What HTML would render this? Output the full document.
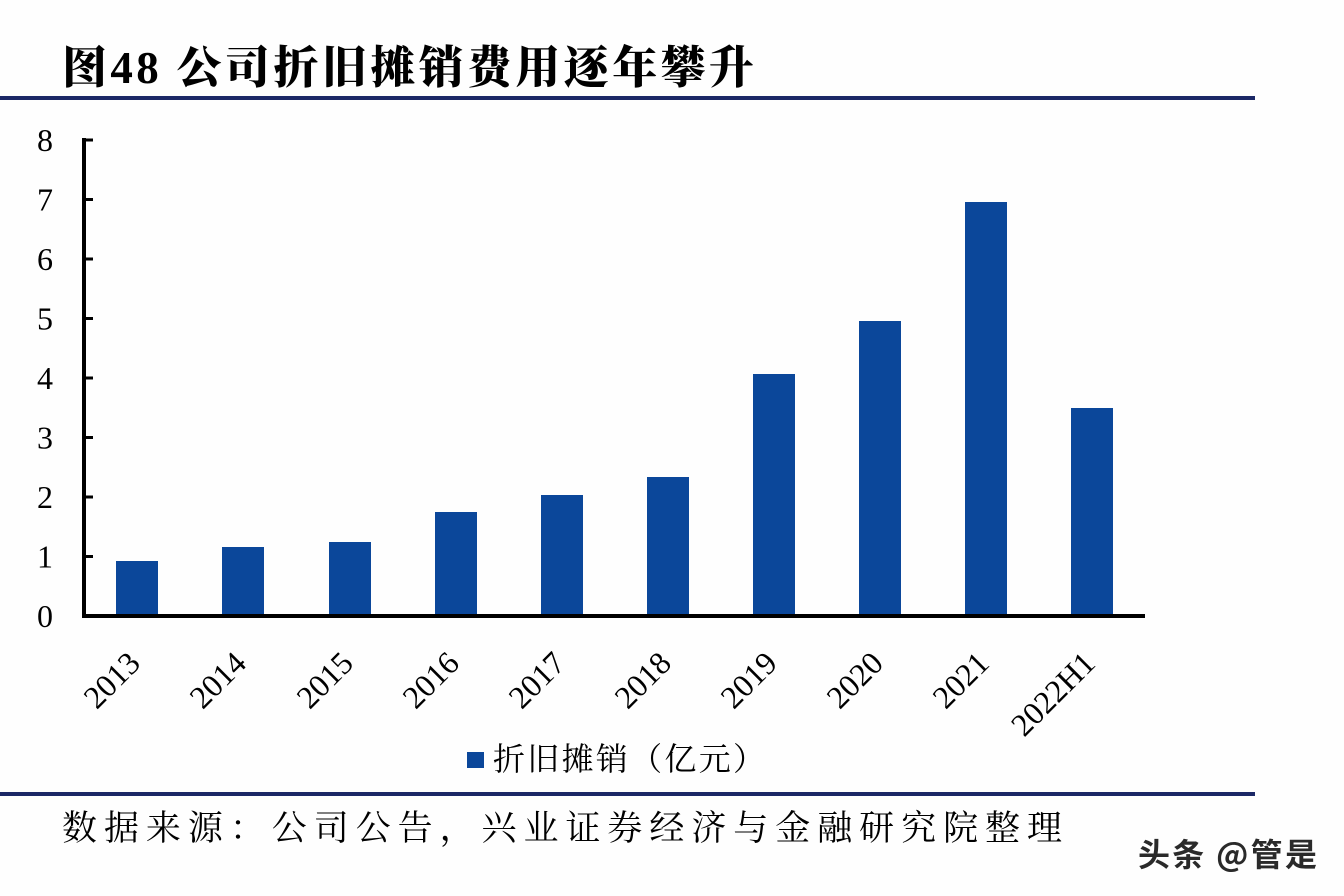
<!DOCTYPE html>
<html><head><meta charset="utf-8"><style>
html,body{margin:0;padding:0;background:#fff;}
svg{display:block;}
</style></head><body>
<svg width="1344" height="896" viewBox="0 0 1344 896" xmlns="http://www.w3.org/2000/svg">
<rect x="0" y="0" width="1344" height="896" fill="#fefefe"/>
<!-- Title -->
<text x="62" y="83" font-family="'Noto Serif CJK SC','Noto Sans CJK SC',serif" font-weight="900" font-size="45" fill="#000" textLength="692" lengthAdjust="spacing"><tspan>图</tspan><tspan font-family="'Liberation Serif',serif" font-weight="bold">48</tspan><tspan> 公司折旧摊销费用逐年攀升</tspan></text>
<rect x="0" y="96" width="1255" height="4" fill="#1b2866"/>

<!-- Axes -->
<g fill="#000">
<rect x="82" y="138" width="4" height="480"/>
<rect x="82" y="614" width="1063" height="4"/>
<rect x="84" y="138.5" width="9" height="3"/>
<rect x="84" y="198" width="9" height="3"/>
<rect x="84" y="257.5" width="9" height="3"/>
<rect x="84" y="317" width="9" height="3"/>
<rect x="84" y="376.5" width="9" height="3"/>
<rect x="84" y="436" width="9" height="3"/>
<rect x="84" y="495.5" width="9" height="3"/>
<rect x="84" y="555" width="9" height="3"/>
</g>
<g font-family="'Liberation Serif',serif" font-size="32" fill="#000" text-anchor="end">
<text x="53" y="151">8</text>
<text x="53" y="210.5">7</text>
<text x="53" y="270">6</text>
<text x="53" y="329.5">5</text>
<text x="53" y="389">4</text>
<text x="53" y="448.5">3</text>
<text x="53" y="508">2</text>
<text x="53" y="567.5">1</text>
<text x="53" y="627">0</text>
</g>

<!-- Bars -->
<g fill="#0b479a">
<rect x="116" y="561" width="42" height="53"/>
<rect x="222" y="547" width="42" height="67"/>
<rect x="329" y="542" width="42" height="72"/>
<rect x="435" y="512" width="42" height="102"/>
<rect x="541" y="495" width="42" height="119"/>
<rect x="647" y="477" width="42" height="137"/>
<rect x="753" y="374" width="42" height="240"/>
<rect x="859" y="321" width="42" height="293"/>
<rect x="965" y="202" width="42" height="412"/>
<rect x="1071" y="408" width="42" height="206"/>
</g>

<!-- X labels -->
<g font-family="'Liberation Serif',serif" font-size="32" fill="#000" text-anchor="end">
<text transform="translate(142,665) rotate(-45)">2013</text>
<text transform="translate(248,665) rotate(-45)">2014</text>
<text transform="translate(355,665) rotate(-45)">2015</text>
<text transform="translate(461,665) rotate(-45)">2016</text>
<text transform="translate(567,665) rotate(-45)">2017</text>
<text transform="translate(673,665) rotate(-45)">2018</text>
<text transform="translate(779,665) rotate(-45)">2019</text>
<text transform="translate(885,665) rotate(-45)">2020</text>
<text transform="translate(991,665) rotate(-45)">2021</text>
<text transform="translate(1097,665) rotate(-45)">2022H1</text>
</g>

<!-- Legend -->
<rect x="467" y="752" width="17" height="16" fill="#0b479a"/>
<text x="493" y="770" font-family="'Noto Serif CJK SC','Noto Sans CJK SC',serif" font-size="32" fill="#000" textLength="272" lengthAdjust="spacing">折旧摊销（亿元）</text>

<!-- Bottom line & source -->
<rect x="0" y="792" width="1255" height="4" fill="#1b2866"/>
<text x="62" y="840" font-family="'Noto Serif CJK SC','Noto Sans CJK SC',serif" font-size="35" fill="#000" textLength="1000" lengthAdjust="spacing">数据来源：公司公告，兴业证券经济与金融研究院整理</text>

<!-- Watermark -->
<text x="1138" y="866" font-family="'Noto Sans CJK SC',sans-serif" font-weight="bold" font-size="32" fill="#2a2a2a" textLength="179" lengthAdjust="spacing">头条 @管是</text>
</svg>
</body></html>
